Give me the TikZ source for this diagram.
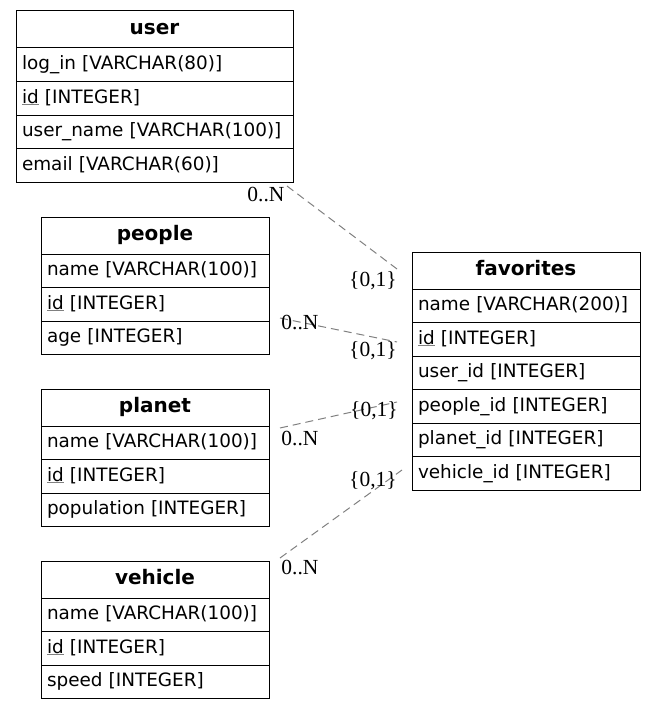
\documentclass[tikz,border=0pt]{standalone}
\usepackage{fontspec}
\newfontfamily\tabfont{DejaVu Sans}
\newfontfamily\lblfont{Liberation Serif}
\newcommand\pkey[1]{{\color{gray}\underline{\color{black}#1}}}
\tikzset{
  tbl/.style={draw, line width=1pt, anchor=north west, inner xsep=6pt, inner ysep=0pt, outer sep=0pt},
  hdr/.style={tbl, minimum height=37pt, align=center,
    font=\tabfont\bfseries\fontsize{20}{24}\selectfont, text height=14pt, text depth=4pt},
  fld/.style={tbl, minimum height=33.5pt, align=left,
    font=\tabfont\fontsize{18.4}{22}\selectfont, text height=13.5pt, text depth=4pt},
  widew/.style={text width=265pt},
  narroww/.style={text width=216pt},
  rel/.style={draw=gray, line width=1pt, dash pattern=on 8pt off 5pt},
  card/.style={font=\lblfont\fontsize{21.5}{24}\selectfont, inner sep=0pt}
}
\begin{document}
\begin{tikzpicture}[x=1pt,y=-1pt]
\useasboundingbox (0,0) rectangle (656,709);
% user
\node[hdr,widew] (user) at (16,11) {user};
\node[fld,widew] (user-login) at (user.south west) {log\_in [VARCHAR(80)]};
\node[fld,widew] (user-id) at (user-login.south west) {\pkey{id} [INTEGER]};
\node[fld,widew] (user-name) at (user-id.south west) {user\_name [VARCHAR(100)]};
\node[fld,widew] (user-email) at (user-name.south west) {email [VARCHAR(60)]};
% people
\node[hdr,narroww] (people) at (41,217) {people};
\node[fld,narroww] (people-name) at (people.south west) {name [VARCHAR(100)]};
\node[fld,narroww] (people-id) at (people-name.south west) {\pkey{id} [INTEGER]};
\node[fld,narroww] (people-age) at (people-id.south west) {age [INTEGER]};
% planet
\node[hdr,narroww] (planet) at (41,389) {planet};
\node[fld,narroww] (planet-name) at (planet.south west) {name [VARCHAR(100)]};
\node[fld,narroww] (planet-id) at (planet-name.south west) {\pkey{id} [INTEGER]};
\node[fld,narroww] (planet-pop) at (planet-id.south west) {population [INTEGER]};
% vehicle
\node[hdr,narroww] (vehicle) at (41,561) {vehicle};
\node[fld,narroww] (vehicle-name) at (vehicle.south west) {name [VARCHAR(100)]};
\node[fld,narroww] (vehicle-id) at (vehicle-name.south west) {\pkey{id} [INTEGER]};
\node[fld,narroww] (vehicle-speed) at (vehicle-id.south west) {speed [INTEGER]};
% favorites
\node[hdr,narroww] (fav) at (412,252) {favorites};
\node[fld,narroww] (fav-name) at (fav.south west) {name [VARCHAR(200)]};
\node[fld,narroww] (fav-id) at (fav-name.south west) {\pkey{id} [INTEGER]};
\node[fld,narroww] (fav-user) at (fav-id.south west) {user\_id [INTEGER]};
\node[fld,narroww] (fav-people) at (fav-user.south west) {people\_id [INTEGER]};
\node[fld,narroww] (fav-planet) at (fav-people.south west) {planet\_id [INTEGER]};
\node[fld,narroww] (fav-vehicle) at (fav-planet.south west) {vehicle\_id [INTEGER]};
% connector ends
\coordinate (u1) at (287,186);  \coordinate (f1) at (397,269);
\coordinate (p1) at (280,318);  \coordinate (f2) at (397,342);
\coordinate (l1) at (280,428);  \coordinate (f3) at (397,402);
\coordinate (v1) at (280,558);  \coordinate (f4) at (402,470);
\draw[rel] (u1) -- (f1);
\draw[rel] (p1) -- (f2);
\draw[rel] (l1) -- (f3);
\draw[rel] (v1) -- (f4);
% cardinalities
\node[card] (c1a) at (266,195) {0..N};
\node[card] (c1b) at (373,281) {\{0,1\}};
\node[card] (c2a) at (300,322) {0..N};
\node[card] (c2b) at (373,351) {\{0,1\}};
\node[card] (c3a) at (300,438) {0..N};
\node[card] (c3b) at (374,411) {\{0,1\}};
\node[card] (c4a) at (300,567) {0..N};
\node[card] (c4b) at (373,481) {\{0,1\}};
\end{tikzpicture}
\end{document}
